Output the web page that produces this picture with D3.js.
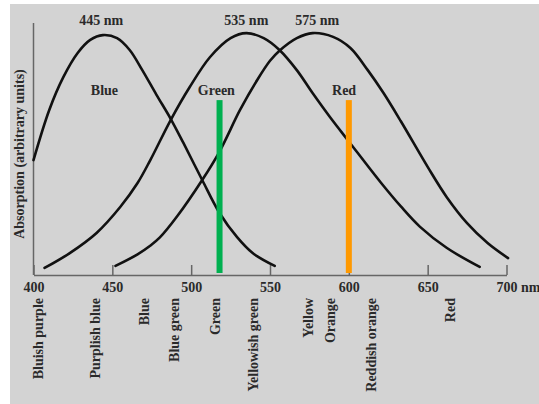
<!DOCTYPE html>
<html>
<head>
<meta charset="utf-8">
<script src="https://cdn.jsdelivr.net/npm/d3@7"></script>
<style>
  body { margin: 0; background: #fff; }
  text { font-family: "Liberation Serif", "DejaVu Serif", serif; }
</style>
</head>
<body>
<div id="chart"></div>
<script>
// wavelength (nm), absorption (0..1)
const blueCone = [
    [400, 0.456], [410, 0.655], [419, 0.786], [428, 0.881], [436, 0.933],
    [444, 0.952], [453, 0.940], [461, 0.893], [469, 0.813], [478, 0.715],
    [487, 0.620], [495, 0.525], [507, 0.377], [518, 0.246], [529, 0.151],
    [539, 0.087], [553, 0.036]
];
const greenCone = [
    [407, 0.028], [423, 0.087], [440, 0.167], [455, 0.270], [466, 0.365],
    [474, 0.455], [487, 0.615], [499, 0.745], [512, 0.865], [525, 0.940],
    [535, 0.960], [546, 0.940], [556, 0.893], [567, 0.813], [577, 0.722],
    [588, 0.627], [600, 0.530], [620, 0.369], [633, 0.272], [645, 0.192],
    [662, 0.108], [683, 0.032]
];
const redCone = [
    [452, 0.036], [466, 0.082], [474, 0.116], [480, 0.148], [491, 0.232],
    [507, 0.377], [518, 0.490], [531, 0.655], [542, 0.775], [550, 0.850],
    [556, 0.890], [567, 0.940], [577, 0.960], [590, 0.945], [601, 0.901],
    [612, 0.813], [622, 0.722], [633, 0.610], [650, 0.429], [662, 0.310],
    [675, 0.206], [688, 0.127], [701, 0.067]
];

const xTicks = [400, 450, 500, 550, 600, 650, 700];

// marker bars: wavelength, height, colour
const markers = [
    {nm: 518, value: 0.694, color: "#00b050"},
    {nm: 600, value: 0.694, color: "#ff9900"}
];

const peakLabels = [
    {nm: 443, value: 1.012, text: "445 nm"},
    {nm: 535, value: 1.012, text: "535 nm"},
    {nm: 580, value: 1.012, text: "575 nm"}
];
const coneLabels = [
    {nm: 445, value: 0.734, text: "Blue"},
    {nm: 516, value: 0.734, text: "Green"},
    {nm: 597, value: 0.734, text: "Red"}
];

const colourNames = [
    {nm: 403, text: "Bluish purple"},
    {nm: 439, text: "Purplish blue"},
    {nm: 470, text: "Blue"},
    {nm: 489, text: "Blue green"},
    {nm: 515, text: "Green"},
    {nm: 539, text: "Yellowish green"},
    {nm: 574, text: "Yellow"},
    {nm: 588, text: "Orange"},
    {nm: 614, text: "Reddish orange"},
    {nm: 664, text: "Red"}
];

const width = 539, height = 404;

const svg = d3.select("#chart")
    .append("svg")
    .attr("width", width)
    .attr("height", height);

// grey panel
svg.append("rect")
    .attr("x", 10)
    .attr("y", 4)
    .attr("width", width - 10)
    .attr("height", height - 4)
    .attr("fill", "#d3d3d3");

const x = d3.scaleLinear().domain([400, 700]).range([33.5, 506.5]);
const y = d3.scaleLinear().domain([0, 1]).range([275, 23]);

// x axis with inward ticks
const xAxis = svg.append("g")
    .attr("transform", "translate(0,275)")
    .call(d3.axisBottom(x)
        .tickValues(xTicks)
        .tickSizeInner(-10)
        .tickSizeOuter(0)
        .tickPadding(7)
        .tickFormat(d3.format("d")));

xAxis.select(".domain").attr("stroke", "#666").attr("stroke-width", 1.5);
xAxis.selectAll(".tick line").attr("stroke", "#666").attr("stroke-width", 1.5);
xAxis.selectAll(".tick text")
    .attr("fill", "#2a2a2a")
    .style("font-family", "'Liberation Serif', serif")
    .style("font-size", "14px")
    .style("font-weight", "bold");

// last tick label carries the unit
xAxis.selectAll(".tick text")
    .filter(d => d === 700)
    .attr("text-anchor", "start")
    .attr("dx", "-10.5")
    .text("700 nm");

// y axis (plain line)
svg.append("line")
    .attr("x1", x(400)).attr("x2", x(400))
    .attr("y1", y(0)).attr("y2", y(1))
    .attr("stroke", "#666")
    .attr("stroke-width", 1.5);

svg.append("text")
    .attr("transform", `translate(19,${(y(0) + y(1)) / 2 + 5}) rotate(-90)`)
    .attr("text-anchor", "middle")
    .attr("dy", "0.35em")
    .attr("fill", "#2a2a2a")
    .style("font-size", "14px")
    .style("font-weight", "bold")
    .text("Absorption (arbitrary units)");

// cone curves
const line = d3.line()
    .x(d => x(d[0]))
    .y(d => y(d[1]))
    .curve(d3.curveCatmullRom.alpha(0.5));

svg.selectAll(".cone")
    .data([blueCone, greenCone, redCone])
    .enter().append("path")
    .attr("class", "cone")
    .attr("d", line)
    .attr("fill", "none")
    .attr("stroke", "#111")
    .attr("stroke-width", 2.6)
    .attr("stroke-linecap", "round");

// marker bars
svg.selectAll(".marker")
    .data(markers)
    .enter().append("rect")
    .attr("class", "marker")
    .attr("x", d => x(d.nm) - 3)
    .attr("y", d => y(d.value))
    .attr("width", 6)
    .attr("height", d => y(0) - y(d.value) - 2)
    .attr("fill", d => d.color);

// peak and cone labels
svg.selectAll(".label")
    .data(peakLabels.concat(coneLabels))
    .enter().append("text")
    .attr("class", "label")
    .attr("x", d => x(d.nm))
    .attr("y", d => y(d.value))
    .attr("dy", "0.35em")
    .attr("text-anchor", "middle")
    .attr("fill", "#2a2a2a")
    .style("font-size", "14px")
    .style("font-weight", "bold")
    .text(d => d.text);

// colour names under the axis
svg.selectAll(".colname")
    .data(colourNames)
    .enter().append("text")
    .attr("class", "colname")
    .attr("transform", d => `translate(${x(d.nm)},298) rotate(-90)`)
    .attr("text-anchor", "end")
    .attr("dy", "0.35em")
    .attr("fill", "#2a2a2a")
    .style("font-size", "14px")
    .style("font-weight", "bold")
    .text(d => d.text);
</script>
</body>
</html>
